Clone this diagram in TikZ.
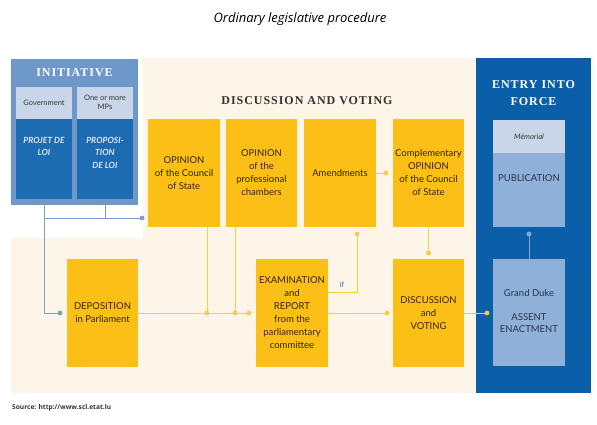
\documentclass[tikz,border=0pt]{standalone}
\usepackage{fontspec}
\setmainfont{Lato}
\newfontfamily\headfont[LetterSpace=8]{Liberation Serif}
\newfontfamily\titlefont{Open Sans}
\usetikzlibrary{calc}
\definecolor{cream}{HTML}{FDF5E7}
\definecolor{initblue}{HTML}{6E97CA}
\definecolor{darkblue}{HTML}{1D6CB2}
\definecolor{paleblue}{HTML}{C9D6E9}
\definecolor{panelblue}{HTML}{0B5EA8}
\definecolor{midblue}{HTML}{8FB0D8}
\definecolor{yel}{HTML}{FCBF16}
\definecolor{yline}{HTML}{F4CE48}
\definecolor{bline}{HTML}{7D9DCA}
\definecolor{bline2}{HTML}{7FA8D6}
\definecolor{ytext}{HTML}{33240C}
\definecolor{btext}{HTML}{DCE6F3}
\definecolor{gtext}{HTML}{333333}
\definecolor{ptext}{HTML}{27334F}
\begin{document}
\begin{tikzpicture}[x=1pt,y=-1pt,
  ybox/.style={fill=yel,inner sep=0pt,minimum height=108pt,align=center,
    text=ytext,font=\fontsize{9.5}{13}\selectfont},
  yl/.style={draw=yline,line width=1pt},
  bl/.style={draw=bline,line width=1pt},
  bl2/.style={draw=bline2,line width=1pt},
  ydot/.style={fill=yline},
  bdot/.style={fill=bline},
  head/.style={font=\headfont\bfseries\fontsize{12}{17}\selectfont,align=center,inner sep=0pt},
  small/.style={font=\fontsize{7.5}{9.5}\selectfont,text=gtext,align=center,inner sep=0pt},
  dtext/.style={font=\bfseries\itshape\fontsize{8.5}{12.5}\selectfont,text=btext,align=center,inner sep=0pt,anchor=north}
]
\useasboundingbox (0,0) rectangle (597,425);
\fill[white] (0,0) rectangle (597,425);
% backgrounds
\fill[cream] (143,58) rectangle (477,238);
\fill[cream] (11,238) rectangle (477,393);
\fill[panelblue] (476,58) rectangle (591,393);

% initiative
\node[fill=initblue,minimum width=127pt,minimum height=146pt,inner sep=0pt] (INIT) at (74.5,132) {};
\node[head,text=white] (INITt) at (74.5,73) {INITIATIVE};
\node[fill=paleblue,minimum width=56pt,minimum height=32pt,inner sep=0pt] (GovH) at (44,103) {};
\node[fill=darkblue,minimum width=56pt,minimum height=80pt,inner sep=0pt] (GovD) at (44,159) {};
\node[fill=paleblue,minimum width=56pt,minimum height=32pt,inner sep=0pt] (MPH) at (105,103) {};
\node[fill=darkblue,minimum width=56pt,minimum height=80pt,inner sep=0pt] (MPD) at (105,159) {};
\node[small] at (44,102.5) {Government};
\node[small] at (105,102.5) {One or more\\MPs};
\node[dtext] at (44,137) {PROJET DE\\LOI};
\node[dtext] at (105,137) {PROPOSI-\\TION\\DE LOI};

% discussion and voting
\node[head,text=gtext] (DVt) at (307,101) {DISCUSSION AND VOTING};
\node[ybox,minimum width=72pt] (OC) at (184,173) {OPINION\\of the Council\\of State};
\node[ybox,minimum width=71pt] (PC) at (261.5,173) {OPINION\\of the\\professional\\chambers};
\node[ybox,minimum width=72pt] (Am) at (340,173) {Amendments};
\node[ybox,minimum width=71pt] (CO) at (428.5,173) {Complementary\\OPINION\\of the Council\\of State};
\node[ybox,minimum width=71pt] (DEP) at (102.5,313) {DEPOSITION\\in Parliament};
\node[ybox,minimum width=72pt] (EX) at (292,313) {EXAMINATION\\and\\REPORT\\from the\\parliamentary\\committee};
\node[ybox,minimum width=71pt] (DV) at (428.5,313) {DISCUSSION\\and\\VOTING};

% entry into force
\node[head,text=white] (EFt) at (533.5,93.5) {ENTRY INTO\\FORCE};
\node[fill=paleblue,minimum width=72pt,minimum height=33pt,inner sep=0pt,
  font=\itshape\fontsize{7.5}{9}\selectfont,text=gtext] (MEM) at (529,136.5) {Mémorial};
\node[fill=midblue,minimum width=72pt,minimum height=74pt,inner sep=0pt] (PUB) at (529,190) {};
\node[font=\fontsize{9.5}{12}\selectfont,text=ptext] at (529,178) {PUBLICATION};
\node[fill=midblue,minimum width=72pt,minimum height=107pt,inner sep=0pt] (GD) at (529,312.5) {};
\node[font=\fontsize{9.5}{12}\selectfont,text=ptext,align=center] at (529,293) {Grand Duke};
\node[font=\fontsize{9.5}{12}\selectfont,text=ptext,align=center] at (529,323) {ASSENT\\ENACTMENT};

% blue connectors
\coordinate (bd1) at (142,218);
\coordinate (bd2) at (60,313);
\draw[bl] (INIT.south -| GovD) |- (bd1);
\draw[bl] (INIT.south -| MPD) -- (MPD |- bd1);
\draw[bl] (INIT.south -| GovD) |- (bd2);
\fill[bdot] (bd1) circle (2.4pt);
\fill[bdot] (bd2) circle (2.4pt);

% yellow connectors
\coordinate (y1) at (207,313);
\coordinate (y2) at (235,313);
\coordinate (y3) at (249,313);
\coordinate (y4) at (387,313);
\coordinate (y5) at (357,234);
\coordinate (y6) at (386,173);
\coordinate (y7) at (428.5,253);
\coordinate (y8) at (487,313);
\draw[yl] (DEP.east) -- (y3);
\draw[yl] (OC.south -| y1) -- (y1);
\draw[yl] (PC.south -| y2) -- (y2);
\draw[yl] (EX.east) -- (y4);
\draw[yl] ($(EX.east)+(0,-21)$) -| (y5);
\draw[yl] (Am.east) -- (y6);
\draw[yl] (CO.south) -- (y7);
\draw[yl] (DV.east) -- (y8);
\foreach \p in {y1,y2,y3,y4,y5,y6,y7,y8} \fill[ydot] (\p) circle (2.4pt);
\node[font=\fontsize{7.5}{9}\selectfont,text=darkblue,inner sep=0pt] (iflbl) at (342,285) {if};

% publication link
\coordinate (b3) at (529,234);
\draw[bl2] (GD.north) -- (b3);
\fill[bline2] (b3) circle (2.4pt);

% titles
\node[font=\titlefont\itshape\fontsize{13}{15}\selectfont,text=black] (TT) at (300,19) {Ordinary legislative procedure};
\node[font=\titlefont\bfseries\fontsize{6.6}{8}\selectfont,text=gtext,anchor=west,inner sep=0pt] (SRC) at (12,408) {Source: http://www.scl.etat.lu};
\end{tikzpicture}
\end{document}
